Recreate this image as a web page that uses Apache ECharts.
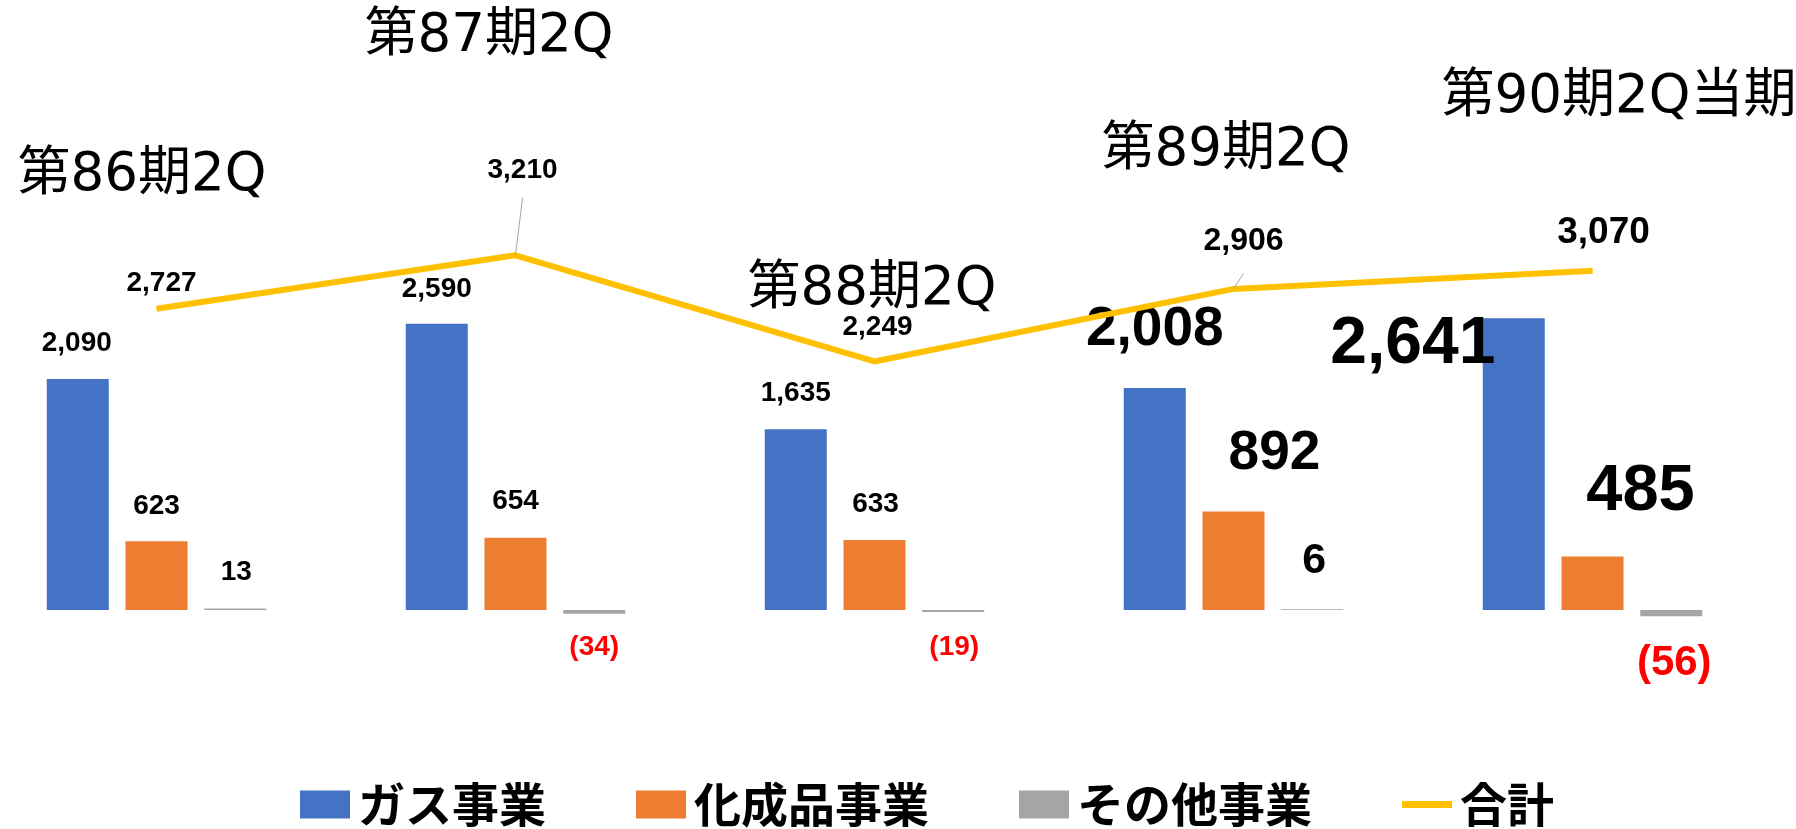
<!DOCTYPE html>
<html>
<head>
<meta charset="utf-8">
<script src="https://cdn.jsdelivr.net/npm/echarts@6/dist/echarts.min.js"></script>
<style>
html, body { margin: 0; padding: 0; background: #fff; }
#main { width: 1796px; height: 829px; }
</style>
</head>
<body>
<div id="main"></div>
<script>
// データ
var periods = ['第86期2Q', '第87期2Q', '第88期2Q', '第89期2Q', '第90期2Q当期'];
var seriesNames = ['ガス事業', '化成品事業', 'その他事業', '合計'];
var gas = [2090, 2590, 1635, 2008, 2641];
var chem = [623, 654, 633, 892, 485];
var other = [13, -34, -19, 6, -56];
var total = [2727, 3210, 2249, 2906, 3070];

// ラベルの位置調整 [dx, dy] と文字サイズ
var gasOff = [[-1, -22], [0, -21], [0, -22], [0, -31], [-101, 60]];
var gasSize = [28, 28, 28, 55, 66];
var chemOff = [[0, -21], [0, -22], [1, -22], [41, -30], [48, -32]];
var chemSize = [28, 28, 28, 55, 65];
var otherOff = [[1, -22], [0, 20], [1, 21], [2, -27], [3, 26]];
var otherSize = [28, 28, 28, 43, 42];
var totalOff = [[5, -11], [7, -71], [3, -20], [10, -31], [11, -19]];
var totalSize = [28, 28, 28, 32, 37];
var totalGuide = [false, true, false, true, false];

// 期タイトルの位置（中心）
var titlePos = [[142, 176], [489, 37], [872, 290], [1226, 151], [1619, 98]];

var numFont = '"Liberation Sans", Arial, sans-serif';
var jpFont = '"Noto Sans CJK JP", sans-serif';
var titleFont = '"DejaVu Sans", "Noto Sans CJK JP", sans-serif';

function fmt(p) {
    var v = p.value;
    var s = Math.abs(v).toLocaleString('en-US');
    return v < 0 ? '(' + s + ')' : s;
}

function barItems(values, offs, sizes) {
    return values.map(function (v, i) {
        return {
            value: v,
            label: {
                position: v < 0 ? 'bottom' : 'top',
                offset: offs[i],
                fontSize: sizes[i],
                color: v < 0 ? '#FF0000' : '#000'
            }
        };
    });
}

var lineItems = total.map(function (v, i) {
    return {
        value: v,
        label: { offset: totalOff[i], fontSize: totalSize[i] },
        labelLine: { show: totalGuide[i], lineStyle: { color: '#A6A6A6', width: 1 } }
    };
});

var barLabel = {
    show: true,
    distance: 0,
    fontFamily: numFont,
    fontWeight: 'bold',
    formatter: fmt
};

var myChart = echarts.init(document.getElementById('main'));

option = {
    animation: false,
    backgroundColor: '#fff',
    grid: {
        left: -23,
        right: 24,
        top: 57.5,
        bottom: 108.5,
        outerBoundsMode: 'none'
    },
    xAxis: {
        type: 'category',
        data: periods,
        show: false
    },
    yAxis: {
        type: 'value',
        min: -1000,
        max: 5000,
        show: false
    },
    legend: {
        left: 300,
        top: 781,
        padding: 0,
        itemWidth: 50,
        itemHeight: 28,
        itemGap: 90,
        textStyle: {
            fontFamily: jpFont,
            fontWeight: 'bold',
            fontSize: 47,
            color: '#000',
            padding: [0, 0, 8, 3]
        },
        data: [
            { name: seriesNames[0], icon: 'rect' },
            { name: seriesNames[1], icon: 'rect' },
            { name: seriesNames[2], icon: 'rect' },
            { name: seriesNames[3], icon: 'path://M0,0L50,0L50,7L0,7Z' }
        ]
    },
    graphic: periods.map(function (p, i) {
        return {
            type: 'text',
            x: titlePos[i][0],
            y: titlePos[i][1],
            style: {
                text: p,
                fontFamily: titleFont,
                fontSize: 53,
                fill: '#000',
                textAlign: 'center',
                textVerticalAlign: 'middle'
            }
        };
    }),
    series: [
        {
            name: seriesNames[0],
            type: 'bar',
            barWidth: 62,
            barGap: '27%',
            itemStyle: { color: '#4472C4' },
            label: barLabel,
            data: barItems(gas, gasOff, gasSize)
        },
        {
            name: seriesNames[1],
            type: 'bar',
            barWidth: 62,
            barGap: '27%',
            itemStyle: { color: '#ED7D31' },
            label: barLabel,
            data: barItems(chem, chemOff, chemSize)
        },
        {
            name: seriesNames[2],
            type: 'bar',
            barWidth: 62,
            barGap: '27%',
            itemStyle: { color: '#A5A5A5' },
            label: barLabel,
            data: barItems(other, otherOff, otherSize)
        },
        {
            name: seriesNames[3],
            type: 'line',
            symbol: 'circle',
            symbolSize: 1,
            z: 5,
            itemStyle: { color: '#FFC000' },
            lineStyle: { color: '#FFC000', width: 6 },
            label: {
                show: true,
                position: 'top',
                distance: 0,
                color: '#000',
                fontFamily: numFont,
                fontWeight: 'bold',
                formatter: fmt
            },
            data: lineItems
        }
    ]
};

myChart.setOption(option);
</script>
</body>
</html>
